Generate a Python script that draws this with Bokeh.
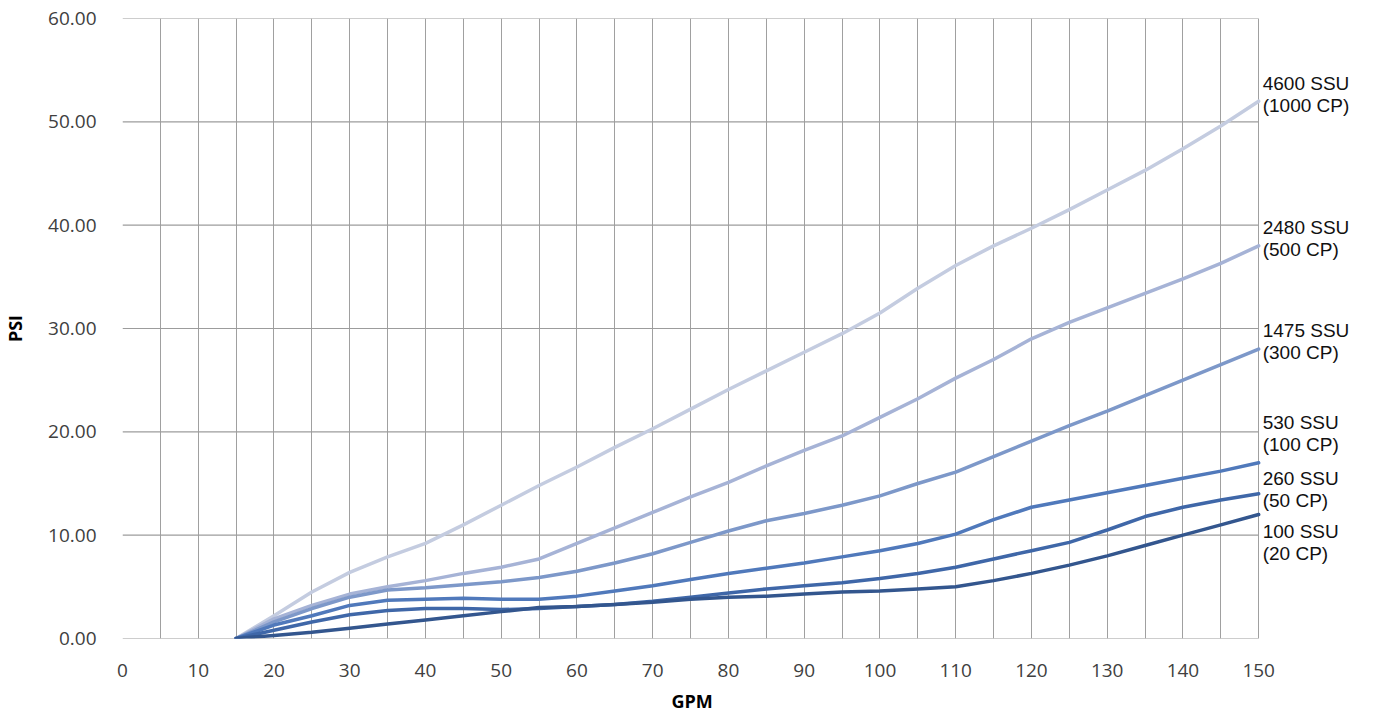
from bokeh.plotting import figure
from bokeh.models import FixedTicker, Range1d, NumeralTickFormatter, Title
from bokeh.core.properties import value
from bokeh.embed import file_html
from bokeh.resources import INLINE

gpm = [15, 20, 25, 30, 35, 40, 45, 50, 55, 60, 65, 70, 75, 80, 85, 90, 95,
       100, 105, 110, 115, 120, 125, 130, 135, 140, 145, 150]

psi_4600 = [0, 2.2, 4.5, 6.4, 7.9, 9.2, 11.0, 12.9, 14.8, 16.6, 18.5, 20.3, 22.2, 24.1,
            25.9, 27.7, 29.5, 31.5, 33.9, 36.1, 38.0, 39.7, 41.5, 43.4, 45.3, 47.4, 49.6, 52.0]
psi_2480 = [0, 1.9, 3.2, 4.3, 5.0, 5.6, 6.3, 6.9, 7.7, 9.2, 10.7, 12.2, 13.7, 15.1,
            16.7, 18.2, 19.6, 21.4, 23.2, 25.2, 27.0, 29.0, 30.6, 32.0, 33.4, 34.8, 36.3, 38.0]
psi_1475 = [0, 1.6, 2.9, 4.0, 4.7, 4.9, 5.2, 5.5, 5.9, 6.5, 7.3, 8.2, 9.3, 10.4,
            11.4, 12.1, 12.9, 13.8, 15.0, 16.1, 17.6, 19.1, 20.6, 22.0, 23.5, 25.0, 26.5, 28.0]
psi_530 = [0, 1.3, 2.2, 3.2, 3.7, 3.8, 3.9, 3.8, 3.8, 4.1, 4.6, 5.1, 5.7, 6.3,
           6.8, 7.3, 7.9, 8.5, 9.2, 10.1, 11.5, 12.7, 13.4, 14.1, 14.8, 15.5, 16.2, 17.0]
psi_260 = [0, 0.8, 1.6, 2.3, 2.7, 2.9, 2.9, 2.8, 2.9, 3.1, 3.3, 3.6, 4.0, 4.4,
           4.8, 5.1, 5.4, 5.8, 6.3, 6.9, 7.7, 8.5, 9.3, 10.5, 11.8, 12.7, 13.4, 14.0]
psi_100 = [0, 0.3, 0.6, 1.0, 1.4, 1.8, 2.2, 2.6, 3.0, 3.1, 3.3, 3.5, 3.8, 4.0,
           4.1, 4.3, 4.5, 4.6, 4.8, 5.0, 5.6, 6.3, 7.1, 8.0, 9.0, 10.0, 11.0, 12.0]

series = [psi_4600, psi_2480, psi_1475, psi_530, psi_260, psi_100]
label_line1 = ["4600 SSU", "2480 SSU", "1475 SSU", "530 SSU", "260 SSU", "100 SSU"]
label_line2 = ["(1000 CP)", "(500 CP)", "(300 CP)", "(100 CP)", "(50 CP)", "(20 CP)"]
label_y = [52.6, 38.7, 28.7, 19.8, 14.4, 9.3]
colors = ["#c4cce0", "#a6b3d6", "#7d98c9", "#5079bb", "#3f67a8", "#33568e"]

x_ticks = list(range(0, 151, 10))
x_grid = list(range(0, 151, 5))
y_ticks = list(range(0, 61, 10))

# layout geometry (pixels): plot area spans 120..1258, labels to its right
W, H = 1370, 723
left, right_px = 120, 1258
x_end = x_grid[-1] * (W - left) / (right_px - left)

p = figure(width=W, height=H, output_backend="svg", toolbar_location=None,
           x_range=Range1d(0, x_end), y_range=Range1d(0, 60),
           min_border_left=left, min_border_right=0, min_border_top=18,
           min_border_bottom=85)

p.outline_line_color = None
p.xaxis.ticker = FixedTicker(ticks=x_ticks)
p.yaxis.ticker = FixedTicker(ticks=y_ticks)
p.xgrid.ticker = FixedTicker(ticks=x_grid)
p.xgrid.grid_line_color = "#a0a0a0"
p.ygrid.visible = False
p.yaxis.formatter = NumeralTickFormatter(format="0.00")

# horizontal grid lines only across the plot area (0..150)
p.segment(x0=[x_grid[0]] * len(y_ticks), y0=y_ticks,
          x1=[x_grid[-1]] * len(y_ticks), y1=y_ticks,
          line_color="#9c9c9c", line_width=1.2)

for ax in (p.xaxis[0], p.yaxis[0]):
    ax.axis_line_color = None
    ax.major_tick_line_color = None
    ax.minor_tick_line_color = None
    ax.major_label_text_font = "Open Sans"
    ax.major_label_text_font_size = "19px"
    ax.major_label_text_color = "#404040"
    ax.axis_label_text_font = "Open Sans"
    ax.axis_label_text_font_style = "bold"
    ax.axis_label_text_font_size = "18px"
    ax.axis_label_text_color = "#000000"

p.yaxis.axis_label = "PSI"
p.xaxis.major_label_standoff = 19
p.yaxis.major_label_standoff = 20
p.yaxis.axis_label_standoff = 18

# x-axis title centred under the plot area (not under the label margin)
gpm_title = Title(text="GPM", align="left", offset=549, standoff=14,
                  text_font="Open Sans", text_font_size="18px",
                  text_font_style="bold", text_color="#000000")
p.add_layout(gpm_title, "below")

for ys, c in zip(series, colors):
    p.line(gpm, ys, line_color=c, line_width=3.5, line_join="round", line_cap="round")

xr = [gpm[-1]] * len(series)
p.text(x=xr, y=label_y, text=label_line1, x_offset=4, y_offset=-11,
       text_font=value("Liberation Sans"), text_font_size="19px",
       text_color="#111111", text_baseline="middle", text_align="left")
p.text(x=xr, y=label_y, text=label_line2, x_offset=4, y_offset=11,
       text_font=value("Liberation Sans"), text_font_size="19px",
       text_color="#111111", text_baseline="middle", text_align="left")

open("out.html", "w").write(file_html(p, INLINE))
